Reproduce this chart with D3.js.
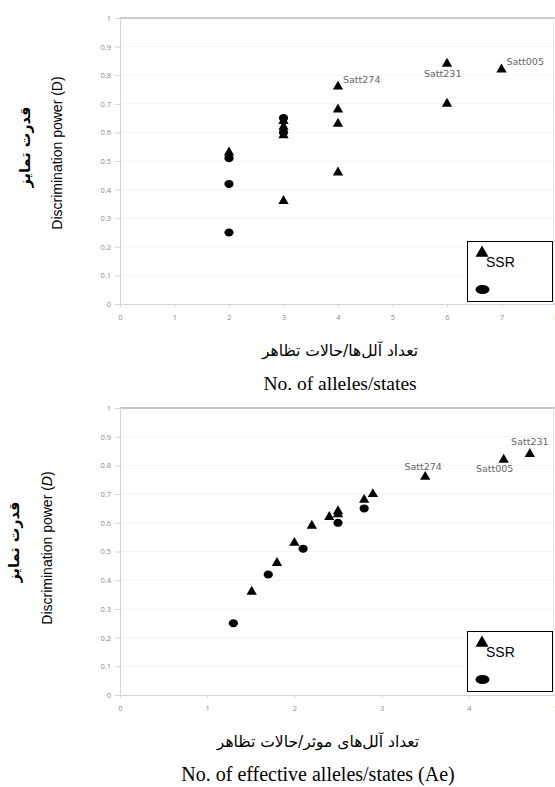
<!DOCTYPE html>
<html>
<head>
<meta charset="utf-8">
<script src="https://cdn.jsdelivr.net/npm/d3@7"></script>
<style>
  html, body { margin: 0; padding: 0; background: #fff; }
  svg { display: block; }
</style>
</head>
<body>
<svg id="chart" width="555" height="787"></svg>
<script>
// ---------- DATA ----------
// Panel 1: number of alleles/states vs discrimination power
const allelesSSR = [2, 3, 3, 3, 3, 4, 4, 4, 4, 6, 6, 7];
const allelesSSR_D = [0.53, 0.36, 0.59, 0.62, 0.64, 0.76, 0.68, 0.63, 0.46, 0.84, 0.70, 0.82];
const allelesOther = [2, 2, 2, 3, 3];
const allelesOther_D = [0.51, 0.42, 0.25, 0.65, 0.60];

// Panel 2: number of effective alleles/states vs discrimination power
const effSSR = [1.51, 1.8, 2.0, 2.2, 2.4, 2.5, 2.5, 2.8, 2.9, 3.5, 4.4, 4.7];
const effSSR_D = [0.36, 0.46, 0.53, 0.59, 0.62, 0.64, 0.63, 0.68, 0.70, 0.76, 0.82, 0.84];
const effOther = [1.3, 1.7, 2.1, 2.5, 2.8];
const effOther_D = [0.25, 0.42, 0.51, 0.60, 0.65];

// Labeled markers
const labels1 = [
  { name: "Satt274", x: 4, d: 0.76 },
  { name: "Satt231", x: 6, d: 0.84 },
  { name: "Satt005", x: 7, d: 0.82 }
];
const labels2 = [
  { name: "Satt274", x: 3.5, d: 0.76 },
  { name: "Satt231", x: 4.7, d: 0.84 },
  { name: "Satt005", x: 4.4, d: 0.82 }
];

const yTicks = [0, 0.1, 0.2, 0.3, 0.4, 0.5, 0.6, 0.7, 0.8, 0.9, 1];
const xTicks1 = [0, 1, 2, 3, 4, 5, 6, 7, 8];
const xTicks2 = [0, 1, 2, 3, 4, 5];
const legendLabel = "SSR";

// ---------- DRAW ----------
const svg = d3.select("#chart");

// label placement (dx, dy of label centre relative to marker, anchor)
const labelPos1 = {
  "Satt274": { dx: 5, dy: -7, anchor: "start" },
  "Satt231": { dx: -23, dy: 10, anchor: "start" },
  "Satt005": { dx: 5, dy: -8, anchor: "start" }
};
const labelPos2 = {
  "Satt274": { dx: -2, dy: -10, anchor: "middle" },
  "Satt231": { dx: 0, dy: -12, anchor: "middle" },
  "Satt005": { dx: -9, dy: 9, anchor: "middle" }
};

function panel(cfg) {
  const g = svg.append("g");
  const x = d3.scaleLinear().domain(cfg.xDomain).range([120, 556]);
  const y = d3.scaleLinear().domain([0, 1]).range([cfg.bottom, cfg.top]);

  // gridlines
  g.append("g").selectAll("line").data(yTicks.slice(1)).join("line")
    .attr("x1", 120).attr("x2", 554)
    .attr("y1", d => y(d)).attr("y2", d => y(d))
    .attr("stroke", "#f3f3f3").attr("stroke-width", 1);

  // top and right border
  g.append("line").attr("x1", 120).attr("x2", 555)
    .attr("y1", y(1)).attr("y2", y(1))
    .attr("stroke", "#9a9a9a").attr("stroke-width", 1);
  g.append("line").attr("x1", 553.5).attr("x2", 553.5)
    .attr("y1", y(1)).attr("y2", y(0))
    .attr("stroke", "#e6e6e6").attr("stroke-width", 1);

  // y axis
  const yAxis = d3.axisLeft(y).tickValues(yTicks).tickSize(5).tickPadding(4)
    .tickFormat(d => d3.format("")(+d.toFixed(1)));
  const ya = g.append("g").attr("transform", "translate(120,0)").call(yAxis);
  ya.select(".domain").attr("stroke", "#d4d4d4");
  ya.selectAll(".tick line").attr("stroke", "#d4d4d4");
  ya.selectAll("text").attr("fill", "#8a8a8a")
    .style("font-family", "'Open Sans', 'Liberation Sans', sans-serif").style("font-size", "7.5px");

  // x axis
  const xAxis = d3.axisBottom(x).tickValues(cfg.xTicks).tickSize(3).tickPadding(8)
    .tickFormat(d3.format("d"));
  const xa = g.append("g").attr("transform", `translate(0,${cfg.bottom})`).call(xAxis);
  xa.select(".domain").attr("stroke", "#d4d4d4");
  xa.selectAll(".tick line").attr("stroke", "#d4d4d4");
  xa.selectAll("text").attr("fill", "#8a8a8a")
    .style("font-family", "'Open Sans', 'Liberation Sans', sans-serif").style("font-size", "7.5px");

  // markers: circles (ellipses)
  const circ = cfg.ox.map((v, i) => ({ x: v, d: cfg.od[i] }));
  g.append("g").selectAll("ellipse").data(circ).join("ellipse")
    .attr("cx", d => x(d.x)).attr("cy", d => y(d.d))
    .attr("rx", 4.6).attr("ry", 4).attr("fill", "#000");

  // triangles
  const tri = cfg.sx.map((v, i) => ({ x: v, d: cfg.sd[i] }));
  const triPath = d3.symbol(d3.symbolTriangle, 46)();
  g.append("g").selectAll("path").data(tri).join("path")
    .attr("d", triPath)
    .attr("transform", d => `translate(${x(d.x)},${y(d.d)})`)
    .attr("fill", "#000");

  // labels
  g.append("g").selectAll("text").data(cfg.labels).join("text")
    .attr("x", d => x(d.x) + cfg.lpos[d.name].dx)
    .attr("y", d => y(d.d) + cfg.lpos[d.name].dy)
    .attr("dominant-baseline", "central")
    .attr("text-anchor", d => cfg.lpos[d.name].anchor)
    .attr("fill", "#666")
    .style("font-family", "'DejaVu Sans', sans-serif").style("font-size", "9.5px")
    .text(d => d.name);

  // legend
  const lg = g.append("g");
  lg.append("rect").attr("x", 467.5).attr("y", cfg.top + cfg.legTop + 0.5)
    .attr("width", 85).attr("height", 60)
    .attr("fill", "#fff").attr("stroke", "#000").attr("stroke-width", 1);
  lg.append("path").attr("d", d3.symbol(d3.symbolTriangle, 74)())
    .attr("transform", `translate(482,${cfg.top + cfg.legTop + 12})`).attr("fill", "#000");
  lg.append("text").attr("x", 486).attr("y", cfg.top + cfg.legTop + 26)
    .style("font-family", "'Liberation Sans', Arial, sans-serif").style("font-size", "14px")
    .attr("fill", "#000").text(legendLabel);
  lg.append("ellipse").attr("cx", 482.5).attr("cy", cfg.top + cfg.legTop + 48.5)
    .attr("rx", 7).attr("ry", 4.5).attr("fill", "#000");

  // y titles
  g.append("text")
    .attr("transform", `translate(${cfg.faX},${cfg.yMid - 6}) rotate(-90)`)
    .attr("text-anchor", "middle").attr("dominant-baseline", "central")
    .style("font-family", "'DejaVu Sans', sans-serif").style("font-size", "14.5px")
    .style("font-weight", "bold").attr("direction", "rtl")
    .text("قدرت تمایز");
  const en = g.append("text")
    .attr("transform", `translate(${cfg.enX},${cfg.yMid}) rotate(-90)`)
    .attr("text-anchor", "middle").attr("dominant-baseline", "central")
    .style("font-family", "'Liberation Sans', Arial, sans-serif").style("font-size", "14px");
  en.append("tspan").text("Discrimination power (");
  en.append("tspan").style("font-style", cfg.italicD ? "italic" : "normal").text("D");
  en.append("tspan").text(")");

  // x titles
  g.append("text").attr("x", cfg.xMid).attr("y", cfg.bottom + 47)
    .attr("text-anchor", "middle").attr("dominant-baseline", "central")
    .attr("direction", "rtl")
    .style("font-family", "'DejaVu Sans', sans-serif").style("font-size", "15.5px")
    .text(cfg.faTitle);
  g.append("text").attr("x", cfg.xMid).attr("y", cfg.bottom + 79)
    .attr("text-anchor", "middle").attr("dominant-baseline", "central")
    .style("font-family", "'Liberation Serif', 'Times New Roman', serif").style("font-size", cfg.enSize)
    .text(cfg.enTitle);
}

panel({
  xDomain: [0, 8], xTicks: xTicks1, top: 18, bottom: 304,
  sx: allelesSSR, sd: allelesSSR_D, ox: allelesOther, od: allelesOther_D,
  labels: labels1, lpos: labelPos1, legTop: 223,
  faX: 25, enX: 57, yMid: 153, italicD: false,
  xMid: 340, enSize: "19.5px",
  faTitle: "تعداد آلل‌ها/حالات تظاهر",
  enTitle: "No. of alleles/states"
});

panel({
  xDomain: [0, 5], xTicks: xTicks2, top: 408, bottom: 695,
  sx: effSSR, sd: effSSR_D, ox: effOther, od: effOther_D,
  labels: labels2, lpos: labelPos2, legTop: 223,
  faX: 14, enX: 47, yMid: 548, italicD: true,
  xMid: 318, enSize: "20px",
  faTitle: "تعداد آلل‌های موثر/حالات تظاهر",
  enTitle: "No. of effective alleles/states (Ae)"
});
</script>
</body>
</html>
